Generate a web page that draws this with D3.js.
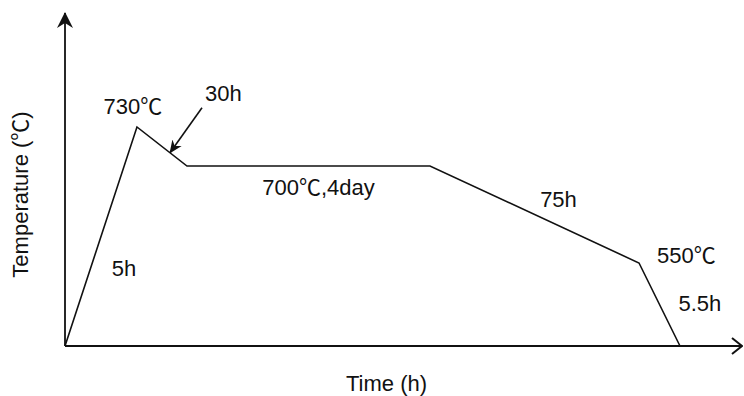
<!DOCTYPE html>
<html>
<head>
<meta charset="utf-8">
<script src="https://cdn.jsdelivr.net/npm/d3@7/dist/d3.min.js"></script>
<style>
  html, body { margin: 0; padding: 0; background: #fff; }
  svg { display: block; }
  text { font-family: "Liberation Sans", Arial, "Noto Sans CJK SC", sans-serif; fill: #111; }
</style>
</head>
<body>
<svg id="chart" width="744" height="396"></svg>
<script>
// Heat-treatment schedule: cumulative time (h) at each breakpoint and its temperature (℃)
const stageTimes = [0, 5, 35, 131, 206, 211.5];
const stageTemps = [20, 730, 700, 700, 550, 20];

// Segment annotations (durations / hold conditions)
const segmentLabels = ["5h", "30h", "700℃,4day", "75h", "5.5h"];
// Point annotations
const pointLabels = ["", "730℃", "", "", "550℃", ""];

const axisTitles = { x: "Time (h)", y: "Temperature (℃)" };

// ---- layout ----
const W = 744, H = 396;
const ox = 65, oy = 346;          // axis origin
const xEnd = 742, yEnd = 13;      // arrow tips
// The time axis is schematic: breakpoints sit at fixed fractions of its length
const xFrac = [0, 0.1063, 0.1802, 0.5391, 0.8479, 0.9084];
// The temperature axis is schematic too
const yFracTemps = [20, 550, 700, 730];
const yFrac = [0, 0.2492, 0.5405, 0.6577];

const axisLen = xEnd - ox, axisH = oy - yEnd;
const x = d3.scaleLinear().domain(stageTimes).range(xFrac.map(f => ox + f * axisLen));
const y = d3.scaleLinear().domain(yFracTemps).range(yFrac.map(f => oy - f * axisH));

const svg = d3.select("#chart");
const defs = svg.append("defs");

// barbed filled arrowhead (y axis and leader arrow)
defs.append("marker")
  .attr("id", "barb").attr("viewBox", "0 0 16 16")
  .attr("refX", 15).attr("refY", 8)
  .attr("markerWidth", 16).attr("markerHeight", 16)
  .attr("markerUnits", "userSpaceOnUse").attr("orient", "auto")
  .append("path").attr("d", "M0,0 L16,8 L0,16 L5,8 Z").attr("fill", "#111");

defs.append("marker")
  .attr("id", "barbSmall").attr("viewBox", "0 0 16 16")
  .attr("refX", 15).attr("refY", 8)
  .attr("markerWidth", 13).attr("markerHeight", 13)
  .attr("markerUnits", "userSpaceOnUse").attr("orient", "auto")
  .append("path").attr("d", "M0,1 L16,8 L0,15 L5,8 Z").attr("fill", "#111");

// open chevron arrowhead (x axis)
defs.append("marker")
  .attr("id", "chev").attr("viewBox", "0 0 12 18")
  .attr("refX", 11).attr("refY", 9)
  .attr("markerWidth", 12).attr("markerHeight", 18)
  .attr("markerUnits", "userSpaceOnUse").attr("orient", "auto")
  .append("path").attr("d", "M1,1 L11,9 L1,17")
  .attr("fill", "none").attr("stroke", "#111").attr("stroke-width", 2);

// axes
svg.append("line")
  .attr("x1", ox).attr("y1", oy).attr("x2", ox).attr("y2", yEnd)
  .attr("stroke", "#111").attr("stroke-width", 1.8)
  .attr("marker-end", "url(#barb)");
svg.append("line")
  .attr("x1", ox).attr("y1", oy).attr("x2", xEnd).attr("y2", oy)
  .attr("stroke", "#111").attr("stroke-width", 2)
  .attr("marker-end", "url(#chev)");

// temperature profile
const pts = stageTimes.map((t, i) => [x(t), y(stageTemps[i])]);
svg.append("path")
  .attr("d", d3.line()(pts))
  .attr("fill", "none").attr("stroke", "#111")
  .attr("stroke-width", 1.6).attr("stroke-linejoin", "miter");

// label offsets relative to segment midpoints / points
const segOffsets = [
  { dx: 23, dy: 40, anchor: "middle" },
  { dx: 43, dy: -45, anchor: "start" },
  { dx: 10, dy: 29, anchor: "middle" },
  { dx: 24, dy: -8, anchor: "middle" },
  { dx: 19, dy: 6, anchor: "start" }
];
const ptOffsets = [null, { dx: -4, dy: -13, anchor: "middle" }, null, null,
  { dx: 18, dy: 0, anchor: "start" }, null];

const fs = 22;
segmentLabels.forEach((lab, i) => {
  const mx = (pts[i][0] + pts[i + 1][0]) / 2, my = (pts[i][1] + pts[i + 1][1]) / 2;
  const o = segOffsets[i];
  svg.append("text")
    .attr("x", mx + o.dx).attr("y", my + o.dy)
    .attr("text-anchor", o.anchor).attr("font-size", fs)
    .text(lab);
});
pointLabels.forEach((lab, i) => {
  if (!lab) return;
  const o = ptOffsets[i];
  svg.append("text")
    .attr("x", pts[i][0] + o.dx).attr("y", pts[i][1] + o.dy)
    .attr("text-anchor", o.anchor).attr("font-size", fs)
    .text(lab);
});

// leader arrow from the "30h" label to the cooling segment
{
  const a = pts[1], b = pts[2];
  const tx = a[0] + (b[0] - a[0]) * 0.66, ty = a[1] + (b[1] - a[1]) * 0.66;
  svg.append("line")
    .attr("x1", tx + 32).attr("y1", ty - 45).attr("x2", tx).attr("y2", ty)
    .attr("stroke", "#111").attr("stroke-width", 1.6)
    .attr("marker-end", "url(#barbSmall)");
}

// axis titles
svg.append("text")
  .attr("x", (ox + xEnd) / 2 - 17).attr("y", 391)
  .attr("text-anchor", "middle").attr("font-size", fs)
  .text(axisTitles.x);
svg.append("text")
  .attr("transform", `translate(28,${(oy + yEnd) / 2 + 15}) rotate(-90)`)
  .attr("text-anchor", "middle").attr("font-size", fs)
  .text(axisTitles.y);
</script>
</body>
</html>
